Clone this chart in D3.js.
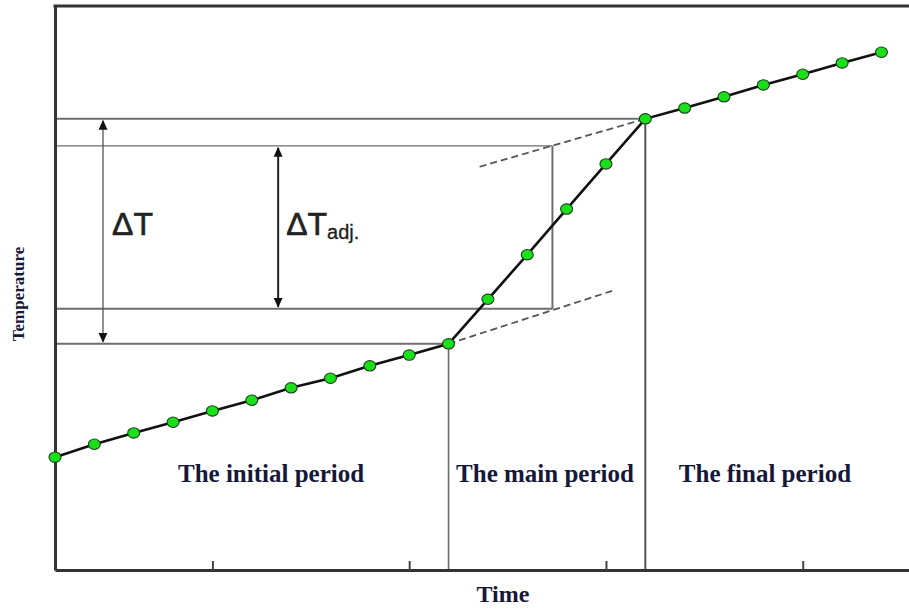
<!DOCTYPE html>
<html>
<head>
<meta charset="utf-8">
<script src="https://cdn.jsdelivr.net/npm/d3@7"></script>
<style>
  html, body { margin: 0; padding: 0; background: #fff; }
  svg { display: block; }
  .lbl { font-family: "Times New Roman", "Liberation Serif", serif; font-weight: bold; fill: #16183a; }
  .delta { font-family: Arial, "Liberation Sans", sans-serif; fill: #222; }
</style>
</head>
<body>
<div id="chart"></div>
<script>
// time steps (readings) and temperatures, arbitrary units
const times = [0, 1, 2, 3, 4, 5, 6, 7, 8, 9, 10, 11, 12, 13, 14, 15, 16, 17, 18, 19, 20, 21];
const temps = [20.0, 22.3, 24.3, 26.2, 28.2, 30.1, 32.3, 34.0, 36.2, 38.1, 40.1,
  48.0, 55.9, 64.0, 72.0, 80.0, 81.9, 83.9, 86.0, 87.9, 89.9, 91.8];

const xTicks = [4, 9, 14, 19];
const mainStart = 10;   // start of main period
const finalStart = 15;  // start of final period
const tAdj = 12.64;     // time of the adjusted reading
const adjLevels = [46.3, 75.2];
const lowerTangent = [[10, 40.1], [14.16, 49.5]];
const upperTangent = [[10.79, 71.5], [15, 80.0]];
const arrowT = [1.22, 5.67]; // x position of the two delta arrows

const periods = [
  { name: "The initial period", t: 5.49 },
  { name: "The main period", t: 12.45 },
  { name: "The final period", t: 18.04 }
];

const width = 909;
const height = 609;

const svg = d3
  .select("#chart")
  .append("svg")
  .attr("width", width)
  .attr("height", height);

const x = d3.scaleLinear().domain([0, 21.7]).range([55, 909]);
const y = d3.scaleLinear().domain([0, 100]).range([570, 6]);

const pts = times.map((t, i) => ({ t: t, T: temps[i] }));
const T0 = temps[times.indexOf(mainStart)];
const T1 = temps[times.indexOf(finalStart)];

// arrow heads
const defs = svg.append("defs");
defs.append("marker")
  .attr("id", "arr")
  .attr("viewBox", "0 0 10 10")
  .attr("refX", 9)
  .attr("refY", 5)
  .attr("markerWidth", 10)
  .attr("markerHeight", 10)
  .attr("markerUnits", "userSpaceOnUse")
  .attr("orient", "auto-start-reverse")
  .append("path")
  .attr("d", "M0,0.5 L10,5 L0,9.5 Z")
  .attr("fill", "#111");

// guide lines
const guides = svg.append("g").attr("stroke", "#6d6d6d").attr("fill", "none");
guides.append("line")
  .attr("x1", x(0)).attr("x2", x(finalStart))
  .attr("y1", y(T1)).attr("y2", y(T1))
  .attr("stroke-width", 2);
guides.append("line")
  .attr("x1", x(0)).attr("x2", x(mainStart))
  .attr("y1", y(T0)).attr("y2", y(T0))
  .attr("stroke-width", 2);
adjLevels.forEach((v, i) => {
  guides.append("line")
    .attr("x1", x(0)).attr("x2", x(tAdj))
    .attr("y1", y(v)).attr("y2", y(v))
    .attr("stroke-width", i === 0 ? 2 : 1.4);
});
guides.append("line")
  .attr("x1", x(tAdj)).attr("x2", x(tAdj))
  .attr("y1", y(adjLevels[0])).attr("y2", y(adjLevels[1]))
  .attr("stroke-width", 2);
guides.append("line")
  .attr("x1", x(mainStart)).attr("x2", x(mainStart))
  .attr("y1", y(T0)).attr("y2", y(0))
  .attr("stroke-width", 1.6);
guides.append("line")
  .attr("x1", x(finalStart)).attr("x2", x(finalStart))
  .attr("y1", y(T1)).attr("y2", y(0))
  .attr("stroke", "#555")
  .attr("stroke-width", 2);

// dashed extrapolations
[lowerTangent, upperTangent].forEach((seg) => {
  svg.append("line")
    .attr("x1", x(seg[0][0])).attr("y1", y(seg[0][1]))
    .attr("x2", x(seg[1][0])).attr("y2", y(seg[1][1]))
    .attr("stroke", "#555")
    .attr("stroke-width", 1.8)
    .attr("stroke-dasharray", "7,4");
});

// delta arrows
svg.append("line")
  .attr("x1", x(arrowT[0])).attr("x2", x(arrowT[0]))
  .attr("y1", y(T1) + 2).attr("y2", y(T0) - 2)
  .attr("stroke", "#555").attr("stroke-width", 1.3)
  .attr("marker-start", "url(#arr)").attr("marker-end", "url(#arr)");
svg.append("line")
  .attr("x1", x(arrowT[1])).attr("x2", x(arrowT[1]))
  .attr("y1", y(adjLevels[1]) + 2).attr("y2", y(adjLevels[0]) - 2)
  .attr("stroke", "#222").attr("stroke-width", 2)
  .attr("marker-start", "url(#arr)").attr("marker-end", "url(#arr)");

svg.append("text")
  .attr("class", "delta")
  .attr("x", x(arrowT[0]) + 9)
  .attr("y", 235)
  .attr("font-size", 32)
  .attr("stroke", "#222")
  .attr("stroke-width", 0.6)
  .text("ΔT");
const adjText = svg.append("text")
  .attr("class", "delta")
  .attr("x", x(arrowT[1]) + 8)
  .attr("y", 235)
  .attr("font-size", 32)
  .attr("stroke", "#222")
  .attr("stroke-width", 0.6);
adjText.append("tspan").text("ΔT");
adjText.append("tspan")
  .attr("font-size", 20)
  .attr("stroke-width", 0.3)
  .attr("dy", 4)
  .text("adj.");

// axes
const xAxis = d3.axisBottom(x)
  .tickValues(xTicks)
  .tickSize(-9)
  .tickSizeOuter(0)
  .tickFormat("");
const gx = svg.append("g")
  .attr("transform", `translate(0,${y(0)})`)
  .call(xAxis);
gx.select(".domain").attr("stroke", "#333").attr("stroke-width", 3);
gx.selectAll(".tick line").attr("stroke", "#444").attr("stroke-width", 2);

const gy = svg.append("g")
  .attr("transform", `translate(${x(0)},0)`)
  .call(d3.axisLeft(y).tickValues([]).tickSizeOuter(0));
gy.select(".domain").attr("stroke", "#333").attr("stroke-width", 3);

svg.append("line")
  .attr("x1", x(0) - 1.5).attr("x2", width)
  .attr("y1", y(100)).attr("y2", y(100))
  .attr("stroke", "#333").attr("stroke-width", 3);

// data line and points
svg.append("path")
  .datum(pts)
  .attr("fill", "none")
  .attr("stroke", "#111")
  .attr("stroke-width", 2.6)
  .attr("d", d3.line().x((d) => x(d.t)).y((d) => y(d.T)));

svg.append("g")
  .selectAll("ellipse")
  .data(pts)
  .join("ellipse")
  .attr("cx", (d) => x(d.t))
  .attr("cy", (d) => y(d.T))
  .attr("rx", 6)
  .attr("ry", 5.2)
  .attr("fill", "#19e019")
  .attr("stroke", "#1d3d1d")
  .attr("stroke-width", 1.1);

// period labels
svg.append("g")
  .selectAll("text")
  .data(periods)
  .join("text")
  .attr("class", "lbl")
  .attr("x", (d) => x(d.t))
  .attr("y", 482)
  .attr("text-anchor", "middle")
  .attr("font-size", 25)
  .text((d) => d.name);

// axis titles
svg.append("text")
  .attr("class", "lbl")
  .attr("x", 503)
  .attr("y", 602)
  .attr("text-anchor", "middle")
  .attr("font-size", 24)
  .text("Time");

svg.append("text")
  .attr("class", "lbl")
  .attr("transform", "translate(24,294) rotate(-90)")
  .attr("text-anchor", "middle")
  .attr("font-size", 17)
  .text("Temperature");
</script>
</body>
</html>
